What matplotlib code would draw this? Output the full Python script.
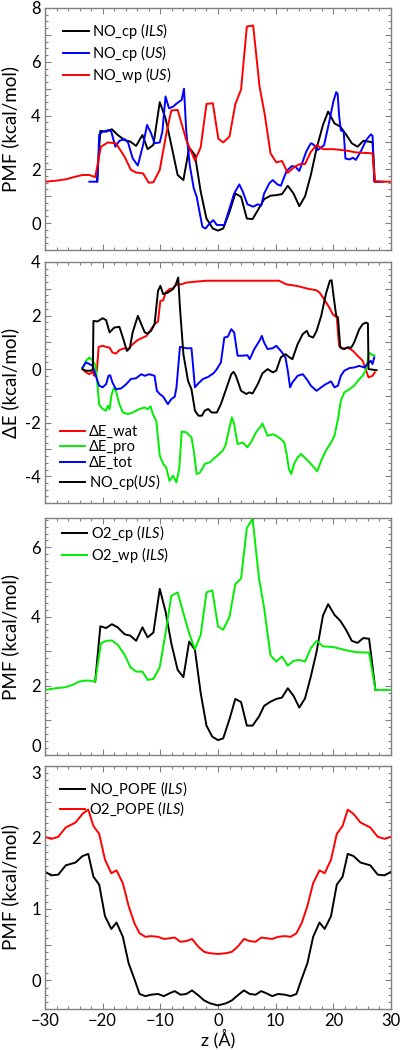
import matplotlib
matplotlib.use("Agg")
import matplotlib.pyplot as plt
from matplotlib.ticker import MultipleLocator, FuncFormatter

FONT = ['Lato', 'DejaVu Sans']
plt.rcParams['font.family'] = FONT
plt.rcParams['mathtext.fontset'] = 'custom'
plt.rcParams['mathtext.rm'] = 'Lato'
plt.rcParams['mathtext.it'] = 'Lato:italic'

# ---------------- Panel 1: NO PMFs ----------------
z_no_cp_ils = [-21.0, -20.4, -19.4, -18.4, -17.4, -16.2, -15.2, -14.2, -13.1, -12.2,
               -11.2, -10.1, -9.1, -8.1, -7.0, -6.0, -5.0, -4.0, -3.0, -2.0,
               -0.9, 0.0, 0.9, 2.0, 3.0, 4.0, 5.0, 6.0, 7.1, 8.0,
               9.1, 10.1, 11.1, 12.1, 13.1, 14.1, 15.1, 16.1, 17.1, 18.2,
               19.1, 20.2, 21.2, 22.2, 23.2, 24.2, 25.2, 26.2, 26.8, 27.2, 28.0]
no_cp_ils = [1.55, 3.43, 3.4, 3.49, 3.28, 3.09, 3.03, 2.87, 3.28, 2.75,
             2.91, 4.5, 3.9, 2.91, 1.79, 1.6, 2.81, 2.53, 1.17, 0.17,
             -0.2, -0.28, -0.2, 0.42, 1.1, 0.98, 0.17, 0.15, 0.55, 0.89,
             1.02, 1.04, 1.08, 1.39, 1.1, 0.63, 1.0, 1.79, 2.78, 3.65,
             4.15, 3.71, 3.59, 3.3, 2.97, 2.84, 3.06, 3.03, 3.0, 1.54, 1.54]

z_no_cp_us = [-22.3, -20.9, -20.6, -20.0, -19.4, -18.8, -18.5, -17.8, -17.1, -16.2,
              -15.6, -14.8, -13.9, -13.0, -12.3, -11.6, -11.0, -10.1, -9.65, -9.1,
              -8.5, -7.8, -7.1, -6.3, -5.9, -5.5, -4.9, -4.2, -3.7, -3.1,
              -2.7, -2.15, -1.4, -0.8, -0.2, 0.35, 1.1, 2.0, 2.8, 3.7,
              4.3, 5.1, 6.1, 6.9, 7.5, 8.0, 8.9, 9.5, 10.3, 10.9,
              11.9, 12.8, 13.4, 14.1, 15.3, 16.1, 16.5, 17.3, 17.7, 18.4,
              19.3, 20.0, 20.5, 20.75, 21.0, 21.3, 21.8, 22.1, 22.8, 23.4,
              23.9, 24.8, 25.7, 26.5, 26.8, 27.1, 28.6]
no_cp_us = [1.54, 1.54, 3.3, 3.4, 3.43, 3.47, 3.4, 2.84, 3.06, 3.12,
            3.0, 2.41, 2.14, 2.9, 3.65, 3.34, 2.97, 3.0, 3.4, 4.71,
            4.27, 4.33, 4.46, 4.58, 5.0, 3.4, 2.16, 1.29, 0.98, 0.3,
            -0.14, -0.2, 0.0, 0.11, -0.07, -0.07, -0.07, 0.55, 1.1, 1.44,
            1.17, 0.7, 0.61, 0.7, 0.65, 1.1, 1.48, 1.6, 1.44, 1.39,
            1.94, 2.12, 2.1, 1.94, 2.66, 2.97, 2.93, 2.72, 2.78, 2.9,
            3.78, 4.52, 4.87, 4.8, 4.0, 3.45, 3.4, 2.4, 2.37, 2.43,
            2.35, 2.68, 3.09, 3.3, 3.25, 1.54, 1.54]

z_no_wp_us = [-30, -28, -26.4, -24.5, -23.5, -22.3, -21.3, -20.3, -19.1, -17.7,
              -16.2, -15.1, -14.2, -13.0, -12.0, -11.2, -10.1, -9.0, -8.1, -7.0,
              -5.5, -4.0, -3.0, -2.0, -0.9, 0.06, 0.9, 2.0, 3.0, 4.0,
              5.0, 6.1, 7.2, 8.1, 9.1, 10.1, 11.1, 12.1, 13.1, 14.1,
              15.1, 16.1, 17.1, 18.2, 20.0, 22.2, 23.9, 26.4, 26.8, 27.2, 30]
no_wp_us = [1.54, 1.58, 1.63, 1.74, 1.79, 1.79, 1.71, 2.84, 3.0, 2.97,
            2.47, 1.98, 1.88, 1.85, 1.5, 1.52, 1.98, 3.28, 4.19, 4.21,
            3.09, 2.33, 2.82, 4.43, 4.46, 3.14, 3.0, 3.22, 4.42, 4.97,
            7.31, 7.35, 5.08, 4.05, 2.6, 2.26, 2.31, 1.87, 2.06, 2.19,
            2.2, 2.65, 2.9, 2.75, 2.75, 2.7, 2.63, 2.6, 2.59, 1.54, 1.54]

# ---------------- Panel 2: energy decomposition ----------------
z_de_wat = [-23.5, -22.9, -22.3, -21.7, -21.5, -21.0, -20.7, -20.0, -19.4, -18.8,
            -18.3, -17.7, -17.1, -16.2, -15.6, -14.8, -13.9, -13.0, -12.4, -11.6,
            -11.0, -10.4, -10.0, -9.5, -9.1, -8.4, -7.8, -7.2, -6.3, -5.5,
            -3.7, -2.0, 10.6, 11.8, 13.8, 15.8, 17.0, 17.6, 18.4, 19.3,
            19.9, 20.6, 21.0, 21.6, 22.5, 23.4, 24.2, 25.1, 25.7, 26.1,
            26.8, 27.2]
de_wat = [0.0, -0.12, -0.19, -0.1, -0.25, -0.06, 0.83, 0.87, 0.83, 0.8,
          0.62, 0.58, 0.71, 0.78, 0.75, 0.93, 1.09, 1.18, 1.24, 1.49,
          1.68, 1.78, 2.55, 2.57, 2.86, 2.99, 3.02, 3.15, 3.17, 3.23,
          3.27, 3.3, 3.3, 3.17, 3.1, 2.99, 2.95, 2.86, 2.61, 2.3,
          2.05, 1.93, 0.87, 0.75, 0.81, 0.68, 0.5, 0.31, -0.06, -0.31,
          -0.25, -0.12]

z_de_pro = [-23.5, -22.9, -22.3, -21.7, -21.2, -20.9, -20.6, -20.0, -19.4, -19.1,
            -18.8, -18.5, -18.1, -17.7, -17.1, -16.5, -15.6, -14.8, -13.6, -12.7,
            -12.2, -11.7, -11.3, -10.7, -10.1, -9.5, -9.0, -8.4, -7.8, -7.2,
            -6.7, -6.3, -5.5, -4.6, -4.2, -3.7, -3.1, -2.3, -1.4, -0.5,
            0.2, 0.8, 1.3, 2.0, 2.4, 2.8, 3.4, 4.3, 5.1, 5.7,
            6.6, 7.5, 7.7, 8.6, 9.5, 10.1, 10.9, 11.5, 11.9, 12.3,
            12.7, 13.2, 13.8, 14.4, 15.3, 16.4, 17.2, 17.9, 18.7, 19.6,
            20.2, 20.8, 21.3, 21.9, 22.8, 23.6, 24.5, 25.1, 25.7, 26.2,
            26.8, 27.1]
de_pro = [0.0, 0.31, 0.43, 0.31, 0.12, -0.62, -1.33, -1.49, -1.55, -1.37,
          -1.5, -1.0, -0.72, -0.81, -1.31, -1.62, -1.68, -1.62, -1.49, -1.43,
          -1.5, -1.39, -1.68, -1.93, -3.23, -3.54, -3.67, -4.17, -3.98, -4.23,
          -3.67, -2.33, -2.36, -2.55, -3.05, -3.92, -3.86, -3.54, -3.48, -3.3,
          -3.17, -3.05, -2.85, -2.18, -1.8, -2.05, -2.8, -2.74, -2.92, -2.74,
          -2.36, -2.11, -2.03, -2.49, -2.43, -2.49, -2.61, -2.74, -3.17, -3.73,
          -3.92, -3.54, -3.3, -3.17, -3.36, -3.61, -3.82, -3.42, -3.05, -2.74,
          -2.49, -1.87, -1.18, -0.87, -0.75, -0.62, -0.37, -0.25, 0.0, 0.62,
          0.52, 0.52]

z_de_tot = [-23.5, -22.9, -22.3, -21.7, -21.2, -20.6, -20.0, -19.4, -19.0, -18.7,
            -18.3, -17.7, -16.8, -15.9, -15.1, -14.2, -13.3, -12.7, -11.9, -11.0,
            -10.6, -10.1, -9.5, -8.7, -8.1, -7.5, -7.2, -6.6, -5.5, -4.6,
            -4.3, -4.0, -3.4, -2.6, -1.7, -0.8, -0.2, 0.5, 1.1, 1.7,
            2.3, 2.8, 3.4, 4.3, 5.1, 5.5, 6.3, 7.2, 7.6, 8.0,
            8.6, 9.5, 10.1, 10.9, 11.7, 12.1, 12.5, 12.9, 13.8, 14.7,
            15.5, 16.1, 17.1, 17.9, 18.7, 19.6, 20.2, 20.8, 21.3, 21.9,
            22.8, 23.6, 24.5, 25.4, 25.9, 26.5, 26.8, 27.1]
de_tot = [0.06, 0.25, 0.19, 0.12, -0.25, -0.62, -0.68, -0.56, -0.25, -0.23,
          -0.5, -0.75, -0.72, -0.56, -0.37, -0.34, -0.19, -0.25, -0.19, -0.25,
          -0.81, -0.93, -1.03, -1.31, -1.12, -1.03, -0.68, 0.83, 0.78, 0.78,
          0.06, -0.68, -0.53, -0.37, -0.29, -0.16, 0.0, 0.25, 1.18, 1.21,
          1.49, 1.37, 0.5, 0.5, 0.52, 0.37, 0.75, 1.06, 1.24, 0.99,
          0.75, 0.78, 0.87, 0.68, 0.44, -0.06, -0.68, -0.5, -0.25, -0.19,
          -0.41, -0.62, -0.81, -0.68, -0.56, -0.46, -0.68, -0.62, -0.25, -0.06,
          0.04, 0.06, 0.12, 0.06, 0.19, 0.31, 0.19, 0.44]

z_de_nocp = [-23.5, -22.9, -22.0, -21.7, -21.6, -20.9, -20.0, -19.4, -18.8, -18.0,
             -17.1, -16.5, -15.8, -15.3, -14.8, -13.9, -13.3, -12.7, -12.2, -11.6,
             -11.0, -10.4, -10.0, -9.5, -8.7, -7.8, -7.3, -6.9, -6.6, -6.0,
             -5.2, -4.6, -4.0, -3.4, -2.8, -2.3, -1.7, -1.1, -0.2, 0.5,
             1.4, 2.3, 2.7, 3.1, 4.0, 4.9, 5.4, 6.0, 6.9, 7.7,
             8.6, 9.5, 10.1, 10.9, 11.7, 12.4, 12.9, 13.8, 14.7, 15.4,
             15.8, 16.5, 17.1, 17.9, 18.7, 19.4, 19.7, 20.0, 20.5, 20.8,
             21.2, 21.9, 22.5, 23.1, 23.6, 24.5, 25.1, 25.7, 26.0, 26.1,
             26.8, 27.5]
de_nocp = [0.0, -0.06, -0.06, 0.0, 1.8, 1.78, 1.9, 1.83, 1.37, 1.55,
           1.58, 1.18, 0.68, 0.78, 1.37, 1.99, 1.68, 1.37, 1.33, 1.43,
           1.68, 2.92, 3.11, 2.8, 2.86, 2.99, 3.17, 3.42, 2.3, 0.56,
           -0.44, -0.75, -1.55, -1.74, -1.74, -1.55, -1.49, -1.62, -1.62, -1.31,
           -0.75, -0.19, -0.1, -0.25, -0.81, -0.93, -0.87, -0.91, -0.56, -0.16,
           0.0, -0.12, -0.06, 0.44, 0.56, 0.44, 0.37, 0.93, 1.31, 1.43,
           1.24, 1.18, 1.43, 1.99, 2.8, 3.3, 3.32, 2.8, 1.99, 1.93,
           0.81, 0.75, 0.81, 0.8, 0.99, 1.49, 1.68, 1.74, 1.7, 0.0,
           -0.02, -0.04]

# ---------------- Panel 3: O2 PMFs ----------------
z_o2_cp = [-21.3, -20.4, -19.4, -18.4, -17.4, -16.2, -15.2, -14.2, -13.1, -12.2,
           -11.2, -10.1, -9.1, -8.1, -7.0, -6.0, -5.0, -4.0, -3.0, -2.0,
           -1.0, 0.0, 0.9, 2.0, 3.0, 4.0, 5.0, 6.0, 7.1, 8.0,
           9.1, 10.1, 11.1, 12.1, 13.1, 14.1, 15.1, 16.1, 17.1, 18.2,
           19.1, 20.2, 21.2, 22.2, 23.2, 24.2, 25.2, 26.2, 27.3]
o2_cp = [2.12, 3.72, 3.67, 3.78, 3.69, 3.49, 3.45, 3.3, 3.69, 3.4,
         3.54, 4.8, 4.15, 3.23, 2.46, 2.25, 3.28, 3.04, 1.79, 0.85,
         0.53, 0.43, 0.48, 1.04, 1.62, 1.53, 0.85, 0.85, 1.11, 1.42,
         1.54, 1.62, 1.66, 1.93, 1.71, 1.37, 1.64, 2.27, 2.99, 4.03,
         4.36, 4.05, 3.88, 3.62, 3.3, 3.24, 3.38, 3.36, 1.88]

z_o2_wp = [-30, -28.1, -26.4, -25.2, -24.1, -23.2, -22.3, -21.3, -20.3, -19.4,
           -18.4, -17.4, -16.2, -15.2, -14.2, -13.1, -12.2, -11.2, -10.1, -9.1,
           -8.1, -7.0, -6.0, -5.0, -4.0, -3.0, -2.0, -1.0, 0.0, 0.9,
           2.0, 3.0, 4.0, 5.0, 6.0, 7.1, 8.0, 9.1, 10.1, 11.1,
           12.1, 13.1, 14.1, 15.1, 16.1, 17.1, 18.2, 20.0, 21.9, 23.9,
           26.2, 27.3, 30]
o2_wp = [1.88, 1.93, 1.96, 2.03, 2.12, 2.15, 2.15, 2.12, 3.23, 3.3,
         3.31, 3.19, 2.9, 2.54, 2.41, 2.41, 2.17, 2.2, 2.54, 3.52,
         4.6, 4.7, 4.1, 3.52, 3.06, 3.47, 4.7, 4.76, 3.72, 3.62,
         4.0, 4.94, 5.1, 6.56, 6.83, 5.12, 4.25, 2.88, 2.7, 2.85,
         2.58, 2.72, 2.75, 2.7, 3.09, 3.3, 3.14, 3.12, 3.04, 2.97,
         2.96, 1.88, 1.88]

# ---------------- Panel 4: POPE membrane PMFs ----------------
z_pope = [-30, -28.9, -27.7, -26.4, -24.7, -23.5, -22.5, -21.6, -20.6, -19.6,
          -18.5, -17.6, -16.5, -15.5, -14.5, -13.6, -12.6, -11.6, -10.4, -9.4,
          -8.4, -7.5, -6.5, -5.5, -4.5, -3.4, -2.4, -1.4, 0, 1.4,
          2.4, 3.4, 4.5, 5.5, 6.5, 7.5, 8.4, 9.4, 10.4, 11.6,
          12.6, 13.6, 14.5, 15.5, 16.5, 17.6, 18.5, 19.6, 20.6, 21.6,
          22.5, 23.5, 24.7, 26.4, 27.7, 28.9, 30]
no_pope = [1.52, 1.47, 1.48, 1.61, 1.65, 1.74, 1.77, 1.45, 1.34, 0.9,
           0.72, 0.81, 0.61, 0.24, 0.02, -0.19, -0.22, -0.2, -0.19, -0.22,
           -0.18, -0.15, -0.2, -0.19, -0.14, -0.21, -0.28, -0.32, -0.35, -0.32,
           -0.28, -0.21, -0.14, -0.19, -0.2, -0.15, -0.18, -0.22, -0.19, -0.2,
           -0.22, -0.19, 0.02, 0.24, 0.61, 0.81, 0.72, 0.9, 1.34, 1.45,
           1.77, 1.74, 1.65, 1.61, 1.48, 1.47, 1.52]
o2_pope = [2.01, 1.98, 2.01, 2.14, 2.21, 2.33, 2.39, 2.16, 2.05, 1.69,
           1.5, 1.54, 1.36, 1.04, 0.8, 0.66, 0.61, 0.62, 0.61, 0.58,
           0.59, 0.6, 0.54, 0.55, 0.58, 0.47, 0.4, 0.38, 0.37, 0.38,
           0.4, 0.47, 0.58, 0.55, 0.54, 0.6, 0.59, 0.58, 0.61, 0.62,
           0.61, 0.66, 0.8, 1.04, 1.36, 1.54, 1.5, 1.69, 2.05, 2.16,
           2.39, 2.33, 2.21, 2.14, 2.01, 1.98, 2.01]

# ---------------- Styling ----------------
RED = '#ff0000'
BLUE = '#0000ff'
GREEN = '#00ee00'
BLACK = '#000000'
FRAME = '#808080'
LW = 1.4

fig = plt.figure(figsize=(4.0, 10.5), dpi=100)
W, H = 400.0, 1050.0
left, right = 45 / W, 391 / W
boxes = [(8, 250), (262, 503), (518, 755), (766, 1009)]
axes = []
for top, bot in boxes:
    ax = fig.add_axes([left, 1 - bot / H, right - left, (bot - top) / H])
    axes.append(ax)


def style(ax, ylim, ymaj, ymin, lab_step, ylabel, show_x=False):
    ax.set_xlim(-30, 30)
    ax.set_ylim(*ylim)
    ax.xaxis.set_major_locator(MultipleLocator(10))
    ax.xaxis.set_minor_locator(MultipleLocator(2))
    ax.yaxis.set_major_locator(MultipleLocator(ymaj))
    ax.yaxis.set_minor_locator(MultipleLocator(ymin))

    def fmt(v, pos):
        r = round(v / lab_step)
        if abs(v - r * lab_step) < 1e-6:
            return '%g' % (r * lab_step)
        return ''
    ax.yaxis.set_major_formatter(FuncFormatter(fmt))
    for s in ax.spines.values():
        s.set_color(FRAME)
        s.set_linewidth(1.0)
    ax.tick_params(which='both', direction='in', top=True, right=True,
                   color=FRAME, width=0.8, labelsize=12, pad=3)
    ax.tick_params(which='major', length=4)
    ax.tick_params(which='minor', length=2)
    if not show_x:
        ax.tick_params(labelbottom=False)
    ax.set_ylabel(ylabel, fontsize=13.5)
    ax.yaxis.set_label_coords(-0.075, 0.5)


leg_kw = dict(frameon=False, fontsize=10.5, handlelength=1.75, handletextpad=0.25,
              labelspacing=0.12, borderpad=0, borderaxespad=0)

# Panel 1
ax = axes[0]
ax.plot(z_no_cp_ils, no_cp_ils, color=BLACK, lw=LW, label=r'NO_cp ($\mathit{ILS}$)')
ax.plot(z_no_cp_us, no_cp_us, color=BLUE, lw=LW, label=r'NO_cp ($\mathit{US}$)')
ax.plot(z_no_wp_us, no_wp_us, color=RED, lw=LW, label=r'NO_wp ($\mathit{US}$)')
style(ax, (-1, 8), 1, 0.25, 2, 'PMF (kcal/mol)')
ax.legend(loc='upper left', bbox_to_anchor=(0.052, 0.945), **leg_kw)

# Panel 2
ax = axes[1]
ax.plot(z_de_wat, de_wat, color=RED, lw=LW, label='ΔE_wat')
ax.plot(z_de_pro, de_pro, color=GREEN, lw=LW, label='ΔE_pro')
ax.plot(z_de_tot, de_tot, color=BLUE, lw=LW, label='ΔE_tot')
ax.plot(z_de_nocp, de_nocp, color=BLACK, lw=LW, label=r'NO_cp($\mathit{US}$)')
style(ax, (-5, 4), 1, 0.25, 2, 'ΔE (kcal/mol)')
ax.legend(loc='lower left', bbox_to_anchor=(0.043, 0.046), **leg_kw)

# Panel 3
ax = axes[2]
ax.plot(z_o2_cp, o2_cp, color=BLACK, lw=LW, label=r'O2_cp ($\mathit{ILS}$)')
ax.plot(z_o2_wp, o2_wp, color=GREEN, lw=LW, label=r'O2_wp ($\mathit{ILS}$)')
style(ax, (0, 6.85), 1, 0.2, 2, 'PMF (kcal/mol)')
ax.legend(loc='upper left', bbox_to_anchor=(0.048, 0.979), **leg_kw)

# Panel 4
ax = axes[3]
ax.plot(z_pope, no_pope, color=BLACK, lw=LW, label=r'NO_POPE ($\mathit{ILS}$)')
ax.plot(z_pope, o2_pope, color=RED, lw=LW, label=r'O2_POPE ($\mathit{ILS}$)')
style(ax, (-0.4, 3.0), 0.5, 0.1, 1, 'PMF (kcal/mol)', show_x=True)
ax.set_xlabel('z (Å)', fontsize=13, labelpad=0)
ax.legend(loc='upper left', bbox_to_anchor=(0.043, 0.944), **leg_kw)

# keep the adjoining edge labels ("0" of panel 3, "3" of panel 4) apart
fig.canvas.draw()
for lab in axes[2].get_yticklabels():
    if lab.get_text() == '0':
        lab.set_verticalalignment('bottom')
for lab in axes[3].get_yticklabels():
    if lab.get_text() == '3':
        lab.set_verticalalignment('top')

fig.savefig('out.png', dpi=100)
